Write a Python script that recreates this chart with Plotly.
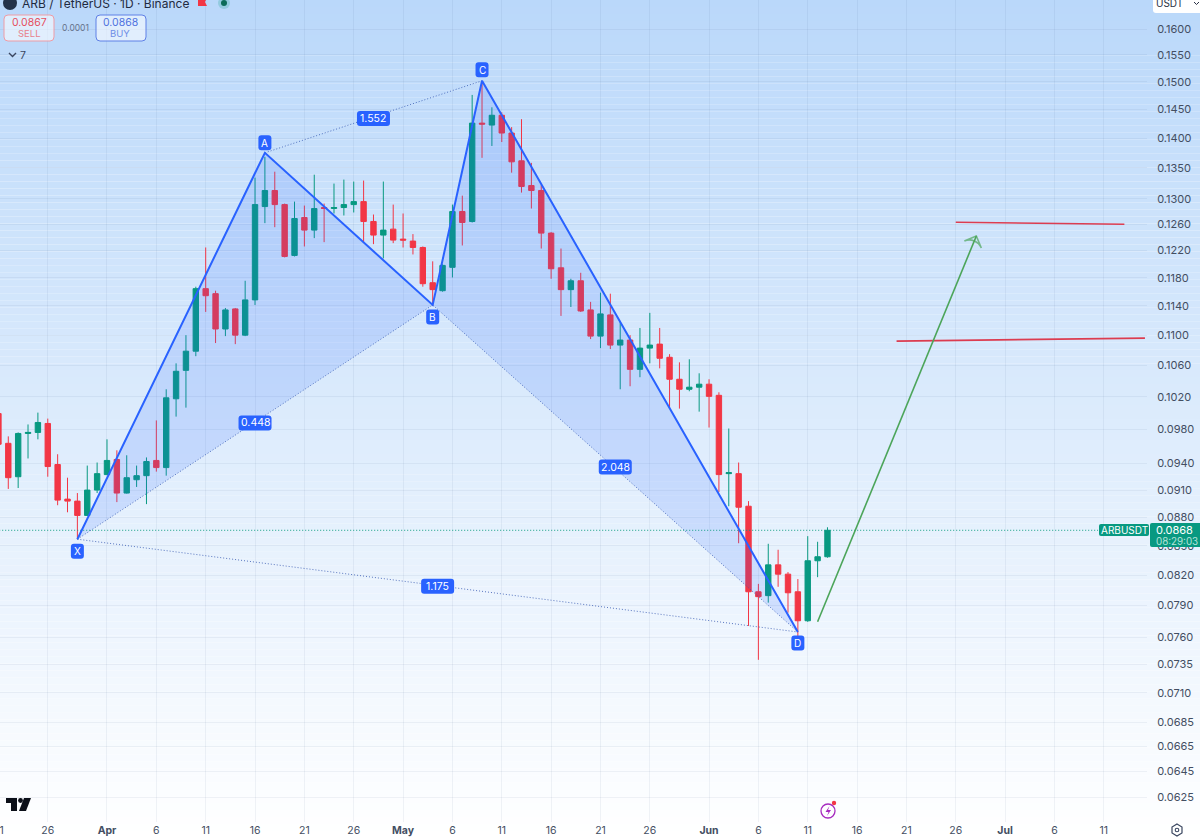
import math
import plotly.graph_objects as go
import pandas as pd

# ---------- data ----------
dates = [d.strftime("%Y-%m-%d") for d in pd.date_range("2025-03-21", "2025-06-13")]
opens = [.09993,.09636,.09250,.09753,.09765,.09873,.09389,.09000,.08978,.08822,.09100,
         .09274,.09447,.09067,.09216,.09262,.09436,.09354,.10176,.10536,.10786,.11644,.11573,.11083,.11359,.11000,
         .11485,.12875,.13130,.12906,.12127,.12703,.12509,.12860,.12844,.12860,.12906,.12953,.12642,.12433,.12524,
         .12372,.12342,.12246,.11729,.11615,.11952,.12797,.12642,.14259,.14225,.14397,.14087,.13616,.13210,.13130,
         .12463,.11945,.11630,.11757,.11345,.10987,.11276,.10867,.10934,.10549,.10827,.10880,.10706,.10422,.10295,.10321,
         .10359,.10219,.09285,.09285,.08922,.08035,.07997,.08304,.08210,.08035,.07755,.08346,.08387]
highs = [.10017,.09718,.09765,.09861,.10005,.09932,.09508,.09239,.09067,.09377,.09412,
         .09683,.09554,.09496,.09377,.09471,.09910,.10295,.10627,.11000,.11672,.12246,.11615,.11372,.11372,.11757,
         .13339,.13683,.13436,.12922,.12953,.12890,.13387,.12922,.13242,.13307,.13275,.13291,.12750,.13275,.12906,
         .12766,.12448,.12261,.12040,.11996,.12906,.13048,.14760,.15000,.14538,.14448,.14190,.14328,.13582,.13226,
         .12478,.12230,.11786,.11873,.11457,.11587,.11573,.11180,.11000,.11097,.11304,.11097,.10747,.10640,.10680,.10498,
         .10422,.10257,.09812,.09412,.08978,.08113,.08521,.08459,.08231,.08161,.08601,.08542,.08695]
lows = [.09508,.09113,.09123,.09459,.09683,.09250,.08933,.08856,.08569,.08816,.09067,
        .09268,.08967,.09061,.09135,.08945,.09308,.09262,.09956,.10066,.10720,.11317,.10894,.10987,.10880,.10987,
        .11414,.12616,.12554,.12098,.12112,.12261,.12387,.12326,.12766,.12735,.12782,.12326,.12296,.12083,.12311,
        .12246,.12142,.11672,.11400,.11601,.11805,.12276,.12626,.13666,.13866,.13933,.13420,.13097,.12844,.12230,
        .11786,.11262,.11386,.11317,.10947,.10827,.10814,.10295,.10333,.10448,.10627,.10562,.10066,.10054,.10270,.10017,
        .09824,.09078,.08922,.08527,.07706,.07393,.07929,.08084,.07832,.07573,.07745,.08180,.08377]
closes = [.09625,.09239,.09753,.09765,.09885,.09366,.08989,.08978,.08822,.09100,.09285,
          .09436,.09067,.09239,.09262,.09424,.09354,.10188,.10524,.10786,.11644,.11544,.11083,.11345,.11000,.11485,
          .12906,.13130,.12906,.12112,.12688,.12509,.12844,.12844,.12860,.12906,.12953,.12642,.12433,.12509,.12357,
          .12357,.12246,.11715,.11630,.11980,.12797,.12626,.14259,.14242,.14397,.14087,.13599,.13195,.13130,.12463,
          .11931,.11630,.11757,.11330,.10987,.11290,.10867,.10934,.10549,.10827,.10867,.10693,.10422,.10295,.10321,.10359,
          .10206,.09274,.09296,.08911,.08035,.07987,.08304,.08210,.08025,.07755,.08346,.08387,.08663]

pattern_names = ["X", "A", "B", "C", "D"]
pattern_dates = ["2025-03-29", "2025-04-17", "2025-05-04", "2025-05-09", "2025-06-10"]
pattern_prices = [.08569, .13750, .11414, .15018, .07649]

ratio_texts = ["1.552", "0.448", "2.048", "1.175"]
ratio_dates = ["2025-04-28", "2025-04-16", "2025-05-22 12:00", "2025-05-04 12:00"]
ratio_prices = [.14340, .09880, .09360, .08090]

target1_dates = ["2025-06-20", "2025-07-15 04:00"]
target1_prices = [.1092, .1096]
target2_dates = ["2025-06-26", "2025-07-13 02:00"]
target2_prices = [.1263, .1260]
arrow_dates = ["2025-06-12", "2025-06-28 02:00"]
arrow_prices = [.07745, .1242]

price_ticks = [.16, .155, .15, .145, .14, .135, .13, .126, .122, .118, .114, .11, .106, .102,
               .098, .094, .091, .088, .085, .082, .079, .076, .0735, .071, .0685, .0665, .0645, .0625]
time_ticks = ["2025-03-26", "2025-04-01", "2025-04-06", "2025-04-11", "2025-04-16", "2025-04-21", "2025-04-26",
              "2025-05-01", "2025-05-06", "2025-05-11", "2025-05-16", "2025-05-21", "2025-05-26",
              "2025-06-01", "2025-06-06", "2025-06-11", "2025-06-16", "2025-06-21", "2025-06-26",
              "2025-07-01", "2025-07-06", "2025-07-11"]
time_labels = ["26", "<b>Apr</b>", "6", "11", "16", "21", "26", "<b>May</b>", "6", "11", "16", "21", "26",
               "<b>Jun</b>", "6", "11", "16", "21", "26", "<b>Jul</b>", "6", "11"]

# ---------- styles ----------
W, H = 1200, 838
FONT = "Inter"
BLUE = "#2962ff"
UP, DOWN = "#089981", "#f23645"
TXT = "#434e62"
RED_LINE = "#dc3c50"
GREEN_LINE = "#4ca55a"

fig = go.Figure()

def px(x): return x / W
def py(y): return 1 - y / H

# ---------- pattern fills ----------
for i in (0, 2):
    fig.add_trace(go.Scatter(x=pattern_dates[i:i + 3], y=pattern_prices[i:i + 3], mode="lines", fill="toself",
                             fillcolor="rgba(41,98,255,0.15)", line=dict(width=0), hoverinfo="skip"))
# dotted connectors
for a, b in ((0, 2), (2, 4), (1, 3), (0, 4)):
    fig.add_trace(go.Scatter(x=[pattern_dates[a], pattern_dates[b]], y=[pattern_prices[a], pattern_prices[b]],
                             mode="lines", line=dict(color="rgba(50,85,175,0.8)", width=1, dash="1px,2px"),
                             hoverinfo="skip"))

# last price line
fig.add_trace(go.Scatter(x=["2025-03-15", "2025-07-10 10:00"], y=[closes[-1], closes[-1]], mode="lines",
                         line=dict(color=UP, width=1, dash="1px,2px"), hoverinfo="skip"))

# ---------- candles ----------
fig.add_trace(go.Candlestick(
    x=dates, open=opens, high=highs, low=lows, close=closes,
    increasing=dict(line=dict(color=UP, width=1), fillcolor=UP),
    decreasing=dict(line=dict(color=DOWN, width=1), fillcolor=DOWN),
    whiskerwidth=0, hoverinfo="skip"))

# pattern legs
fig.add_trace(go.Scatter(x=pattern_dates, y=pattern_prices, mode="lines",
                         line=dict(color=BLUE, width=2), hoverinfo="skip"))

# targets
fig.add_trace(go.Scatter(x=target1_dates, y=target1_prices, mode="lines",
                         line=dict(color=RED_LINE, width=1.6), hoverinfo="skip"))
fig.add_trace(go.Scatter(x=target2_dates, y=target2_prices, mode="lines",
                         line=dict(color=RED_LINE, width=1.6), hoverinfo="skip"))
# arrow
fig.add_trace(go.Scatter(x=arrow_dates, y=arrow_prices, mode="lines+markers",
                         line=dict(color=GREEN_LINE, width=1.6),
                         marker=dict(symbol=["circle", "arrow-wide-open"], size=[0, 13], angleref="previous",
                                     color=GREEN_LINE, line=dict(color=GREEN_LINE, width=1.6)),
                         hoverinfo="skip"))

shapes = []
annots = []

# background gradient
N = 120
top = (186, 216, 250)
for i in range(N):
    t = (i + 0.5) / N
    c = [round(a + (255 - a) * t) for a in top]
    shapes.append(dict(type="rect", xref="paper", yref="paper", x0=0, x1=1, y0=1 - i / N, y1=1 - (i + 1) / N,
                       fillcolor=f"rgb({c[0]},{c[1]},{c[2]})", line=dict(width=0), layer="below"))

def rr(x0, y0, x1, y1, r):
    return (f"M{x0 + r},{y0} L{x1 - r},{y0} Q{x1},{y0} {x1},{y0 + r} L{x1},{y1 - r} Q{x1},{y1} {x1 - r},{y1} "
            f"L{x0 + r},{y1} Q{x0},{y1} {x0},{y1 - r} L{x0},{y0 + r} Q{x0},{y0} {x0 + r},{y0} Z")

def badge(date, price, text, w, h, up=0, size=10.5):
    """Rounded blue label anchored on a chart point, offset `up` pixels."""
    shapes.append(dict(type="path", xref="x", yref="y", xsizemode="pixel", ysizemode="pixel",
                       xanchor=date, yanchor=price, path=rr(-w / 2, up - h / 2, w / 2, up + h / 2, 3),
                       fillcolor=BLUE, line=dict(width=0)))
    annots.append(dict(x=date, y=math.log10(price), xref="x", yref="y", text=text, showarrow=False, yshift=up,
                       font=dict(family=FONT, size=size, color="white")))

offs = {"X": -12, "A": 10, "B": -12, "C": 11, "D": -11}
for n, d, p in zip(pattern_names, pattern_dates, pattern_prices):
    badge(d, p, n, 13, 15, offs[n], 10)
for t, d, p in zip(ratio_texts, ratio_dates, ratio_prices):
    badge(d, p, t, 33, 15, 0, 10.5)

def pshape(path, fill="rgba(0,0,0,0)", line=None, lw=1):
    shapes.append(dict(type="path", xref="paper", yref="paper", path=path, fillcolor=fill,
                       line=dict(color=line or "rgba(0,0,0,0)", width=lw if line else 0)))

def P(*pts, close=False):
    s = " ".join(("M" if i == 0 else "L") + f"{px(x):.5f},{py(y):.5f}" for i, (x, y) in enumerate(pts))
    return s + (" Z" if close else "")

def RR(x0, y0, x1, y1, r):
    X0, X1, Y0, Y1 = px(x0), px(x1), py(y0), py(y1)
    rx, ry = r / W, r / H
    return (f"M{X0 + rx},{Y0} L{X1 - rx},{Y0} Q{X1},{Y0} {X1},{Y0 - ry} L{X1},{Y1 + ry} Q{X1},{Y1} {X1 - rx},{Y1} "
            f"L{X0 + rx},{Y1} Q{X0},{Y1} {X0},{Y1 + ry} L{X0},{Y0 - ry} Q{X0},{Y0} {X0 + rx},{Y0} Z")

def txt(x, y, text, size=11, color=TXT, anchor="center", bold=False):
    annots.append(dict(x=px(x), y=py(y), xref="paper", yref="paper", text=f"<b>{text}</b>" if bold else text,
                       showarrow=False, xanchor=anchor, yanchor="middle",
                       font=dict(family=FONT, size=size, color=color)))

def circ(cx, cy, r, fill="rgba(0,0,0,0)", line=None, lw=1):
    shapes.append(dict(type="circle", xref="paper", yref="paper", x0=px(cx - r), x1=px(cx + r),
                       y0=py(cy + r), y1=py(cy - r), fillcolor=fill,
                       line=dict(color=line or "rgba(0,0,0,0)", width=lw if line else 0)))

# header
circ(10, 3, 7, "#23324a")
txt(20, 3, "ARB / TetherUS · 1D · Binance", 12, "#1f2a40", "left")
pshape(P((198, -2), (207, -2), (205, 2), (207, 6), (198, 6), close=True), "#f23645")
circ(224, 3, 6, "rgba(8,153,129,0.22)")
circ(224, 3, 3, "#0b6b58")

# sell / buy
pshape(RR(4, 15, 54, 41, 4), "rgba(255,255,255,0.55)", "#ee9ca6", 1)
txt(29, 22.5, "0.0867", 10.5, "#e5505f")
txt(29, 34, "SELL", 9.5, "#e8808b")
txt(75, 28, "0.0001", 8.5, "#66738a")
pshape(RR(96, 15, 146, 41, 4), "rgba(255,255,255,0.55)", "#5f80e6", 1)
txt(120, 22.5, "0.0868", 10.5, "#4f72e0")
txt(120, 34, "BUY", 9.5, "#6f8de6")
pshape(P((9, 53), (12.5, 56.5), (16, 53)), line="#3a4660", lw=1.4)
txt(22.5, 55.5, "7", 10.5, "#3a4660")

# USDT box
pshape(RR(1153, -8, 1206, 13, 3), "white")
txt(1154, 3, "USDT", 10, "#2a3245", "left")
pshape(P((1194, 2), (1196.5, 4.5), (1199, 2)), line="#2a3245", lw=1)

# tags
pshape(RR(1099, 524, 1149, 536, 2), UP)
txt(1124, 530, "ARBUSDT", 10, "white")
pshape(RR(1150, 523, 1206, 547, 2), UP)
txt(1154, 530, "0.0868", 11, "white", "left")
txt(1154, 541, "08:29:03", 9.8, "#b5e3d9", "left")

# cut-off first time label
txt(6, 830, "21", 10.5, TXT, "right")

# TradingView logo
pshape(P((6, 798), (17, 798), (17, 811), (11, 811), (11, 803), (6, 803), close=True), "#0b0f18")
circ(20.5, 800.5, 2.4, "#0b0f18")
pshape(P((24, 798), (31, 798), (26, 811), (19, 811), close=True), "#0b0f18")

# lightning badge
circ(828, 811, 7, "rgba(255,255,255,0.6)", "#a62bbf", 1.3)
pshape(P((829.5, 806), (825.5, 812), (828.5, 812), (827, 816), (831, 810), (828, 810), close=True), "#a62bbf")
circ(834, 803, 2.2, "#f23645")

# settings gear
pshape(P((1177, 824), (1182, 827), (1182, 833), (1177, 836), (1172, 833), (1172, 827), close=True),
       line="#3a4660", lw=1.2)
circ(1177, 830, 1.8, line="#3a4660", lw=1.1)

# ---------- layout ----------
grid = "rgba(60,85,130,0.07)"
fig.update_layout(
    width=W, height=H, margin=dict(l=0, r=0, t=0, b=0), autosize=False,
    paper_bgcolor="white", plot_bgcolor="rgba(0,0,0,0)", boxgap=0.22,
    showlegend=False, shapes=shapes, annotations=annots,
    font=dict(family=FONT, color=TXT),
    xaxis=dict(type="date", domain=[0, 1147 / W], range=["2025-03-21 03:50", "2025-07-15 09:00"],
               rangeslider=dict(visible=False), tickmode="array", tickvals=time_ticks, ticktext=time_labels,
               tickangle=0, showgrid=True, gridcolor=grid, gridwidth=1, zeroline=False, showline=False, ticks="",
               tickfont=dict(family=FONT, size=10.5, color=TXT), automargin=False, anchor="y"),
    yaxis=dict(type="log", domain=[16 / H, 1], side="right",
               range=[math.log10(0.06062), math.log10(0.16578)],
               tickmode="array", tickvals=price_ticks, ticktext=[f"{v:.4f}" for v in price_ticks],
               showgrid=True, gridcolor=grid, gridwidth=1, zeroline=False, showline=False,
               ticks="outside", ticklen=7, tickcolor="rgba(0,0,0,0)",
               tickfont=dict(family=FONT, size=11, color=TXT), automargin=False, anchor="x"),
)

fig.write_html("out.html", config=dict(displayModeBar=False),
               post_script="document.body.style.margin='0';document.documentElement.style.overflow='hidden';")
